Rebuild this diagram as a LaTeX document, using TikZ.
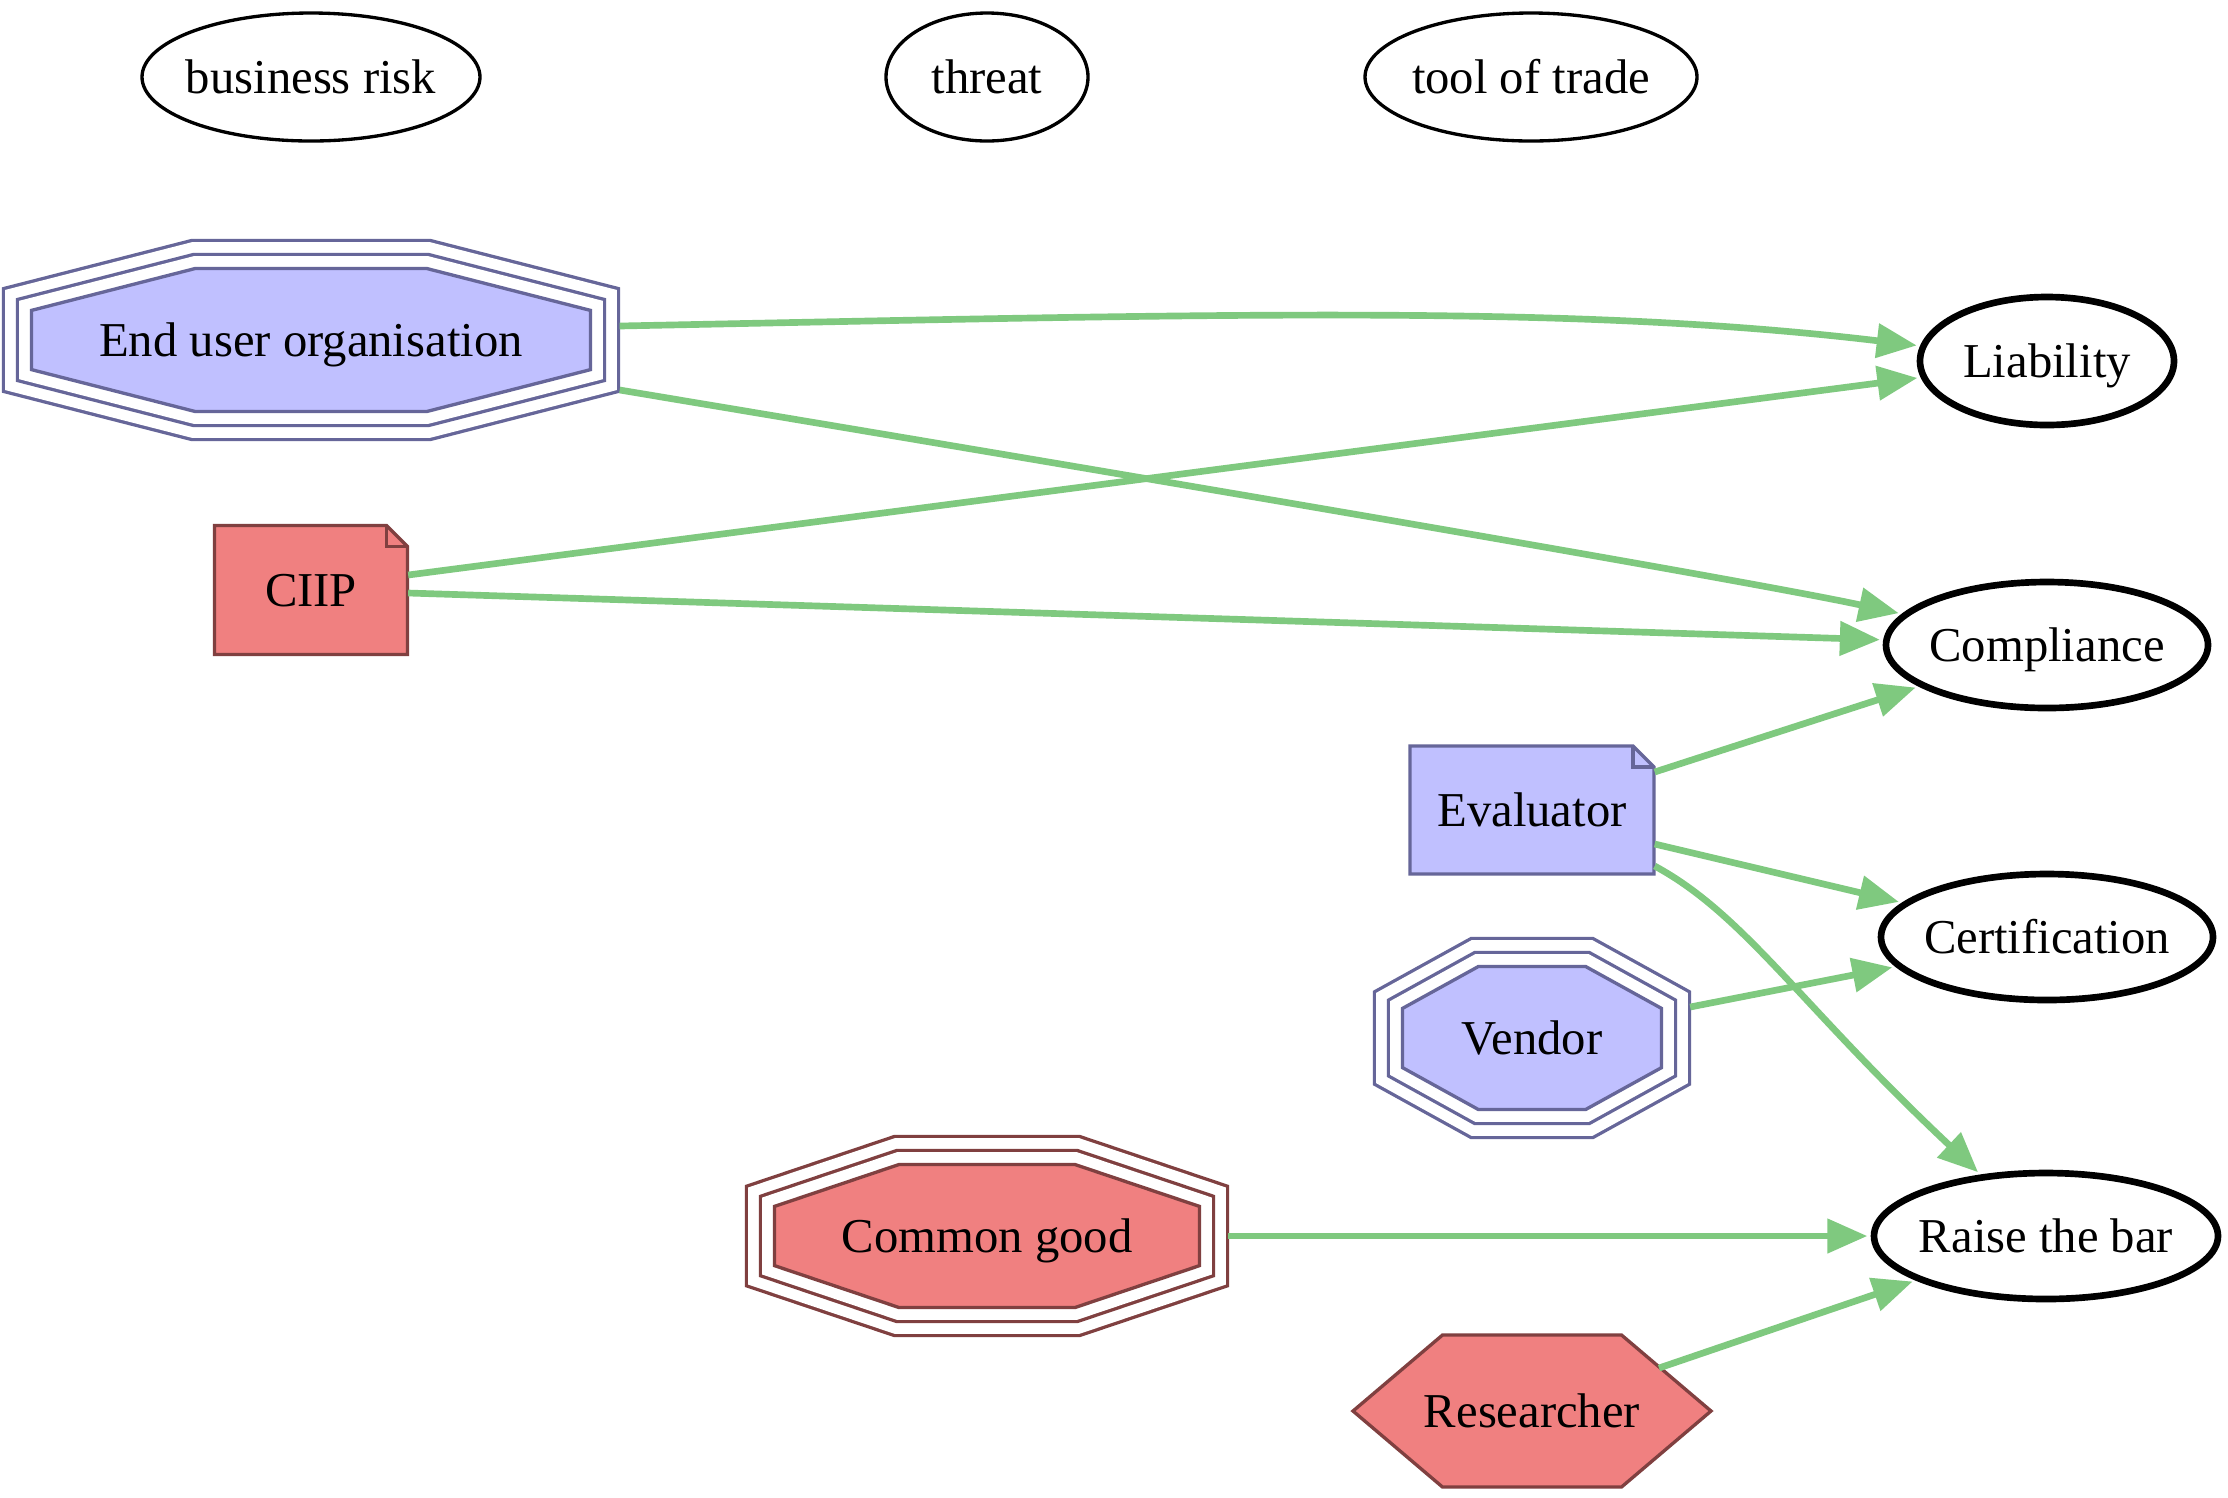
\documentclass[tikz,border=0pt]{standalone}
\usepackage{fontspec}
\setmainfont{Liberation Serif}
\usetikzlibrary{arrows.meta,shapes.geometric,calc,backgrounds}

\definecolor{linkgreen}{HTML}{7FC97F}
\definecolor{bluefill}{HTML}{C0C0FF}
\definecolor{blueline}{HTML}{666699}
\definecolor{redfill}{HTML}{F08080}
\definecolor{redline}{HTML}{804040}

% octagon outline, #1 = half width, #2 = half height
\newcommand\octagonpath[2]{({#1},{0.4142*#2}) -- ({0.4142*#1},{#2}) -- ({-0.4142*#1},{#2}) -- ({-#1},{0.4142*#2}) -- ({-#1},{-0.4142*#2}) -- ({-0.4142*#1},{-#2}) -- ({0.4142*#1},{-#2}) -- ({#1},{-0.4142*#2}) -- cycle}

% three parallel octagon outlines around a node, the inner one filled
\newcommand\tripleoct[5]{%
  \begin{scope}[shift={(#1.center)}, line join=miter]
    \draw[#5, line width=17.8pt] \octagonpath{#2}{#3};
    \draw[white, line width=15.8pt] \octagonpath{#2}{#3};
    \draw[#5, line width=9.4pt] \octagonpath{#2}{#3};
    \draw[white, line width=7.4pt] \octagonpath{#2}{#3};
    \draw[#5, fill=#4, line width=1pt] \octagonpath{#2}{#3};
  \end{scope}}

% note shape with folded top-right corner, #2 = half width, #3 = half height
\newcommand\notebox[5]{%
  \begin{scope}[shift={(#1.center)}, line join=miter]
    \draw[#5, fill=#4, line width=1pt] (-#2,-#3) -- ({#2-21},-#3) -- (#2,{-#3+21}) -- (#2,#3) -- (-#2,#3) -- cycle;
    \draw[#5, line width=1pt] ({#2-21},-#3) -- ({#2-21},{-#3+21}) -- (#2,{-#3+21});
  \end{scope}}

\tikzset{
  every node/.style={font=\fontsize{14.6pt}{17.5pt}\selectfont, text height=9.6pt, text depth=0pt, inner sep=0pt},
  topell/.style={ellipse, draw=black, line width=1pt, inner xsep=-20pt, inner ysep=-5pt},
  goalell/.style={ellipse, draw=black, line width=2pt, inner xsep=-20pt, inner ysep=-5pt},
  shapebox/.style={rectangle, draw=none},
  link/.style={draw=linkgreen, line width=2pt, shorten >=1pt, -{Triangle[length=12pt,width=10pt]}},
}

\begin{document}
\begin{tikzpicture}[x=0.3pt, y=-0.3pt]
\useasboundingbox (0,0) rectangle (2228,1497);

% legend row
\node[topell, minimum width=101.4pt, minimum height=38.4pt] (br) at (311,77) {business risk};
\node[topell, minimum width=60.6pt, minimum height=38.4pt] (th) at (987,77) {threat};
\node[topell, minimum width=99.6pt, minimum height=38.4pt] (tt) at (1531,77) {tool of trade};

% stakeholders
\node[shapebox, minimum width=184.8pt, minimum height=59.7pt] (eu) at (311,340) {End user organisation};
\node[shapebox, minimum width=57.9pt, minimum height=38.7pt] (ciip) at (311,590) {CIIP};
\node[shapebox, minimum width=73.2pt, minimum height=38.4pt] (ev) at (1532,810) {Evaluator};
\node[shapebox, minimum width=94.5pt, minimum height=59.7pt] (vd) at (1532,1038) {Vendor};
\node[shapebox, minimum width=144.3pt, minimum height=59.7pt] (cg) at (987,1236) {Common good};
\node[shapebox, minimum width=107.4pt, minimum height=45.6pt] (res) at (1532,1411) {Researcher};

% goals
\node[goalell, minimum width=76.2pt, minimum height=38.4pt] (lib) at (2047,361) {Liability};
\node[goalell, minimum width=96.6pt, minimum height=37.8pt] (cp) at (2047,645) {Compliance};
\node[goalell, minimum width=99.6pt, minimum height=37.8pt] (cert) at (2047,937) {Certification};
\node[goalell, minimum width=103.2pt, minimum height=37.8pt] (rb) at (2046,1236) {Raise the bar};

% stakeholder shapes behind their labels
\begin{scope}[on background layer]
  \fill[white] (0,0) rectangle (2228,1497);
  \tripleoct{eu}{279.5}{71.5}{bluefill}{blueline}
  \tripleoct{vd}{129.5}{71.5}{bluefill}{blueline}
  \tripleoct{cg}{212.5}{71.5}{redfill}{redline}
  \notebox{ciip}{96.5}{64.5}{redfill}{redline}
  \notebox{ev}{122}{64}{bluefill}{blueline}
  \begin{scope}[shift={(res.center)}, line join=miter]
    \draw[redline, fill=redfill, line width=1pt] (179,0) -- (89.5,-76) -- (-89.5,-76) -- (-179,0) -- (-89.5,76) -- (89.5,76) -- cycle;
  \end{scope}
\end{scope}

% connectors
\draw[link] ($(eu.east)+(0,-14)$) .. controls (1221,314) and (1570,304) .. (lib);
\draw[link] ($(eu.east)+(0,50)$) .. controls (1321,507) and (1763,584) .. (cp);
\draw[link] ($(ciip.east)+(0,-15)$) -- (lib);
\draw[link] ($(ciip.east)+(0,3)$) -- (cp);
\draw[link] ($(ev.east)+(0,-38)$) -- (cp);
\draw[link] ($(ev.east)+(0,34)$) -- (cert);
\draw[link] ($(ev.east)+(0,56)$) .. controls (1745,915) and (1800,1005) .. (rb);
\draw[link] ($(vd.east)+(0,-31)$) -- (cert);
\draw[link] (cg.east) -- (rb);
\draw[link] ($(res.center)+(127,-43)$) -- (rb);
\end{tikzpicture}
\end{document}
